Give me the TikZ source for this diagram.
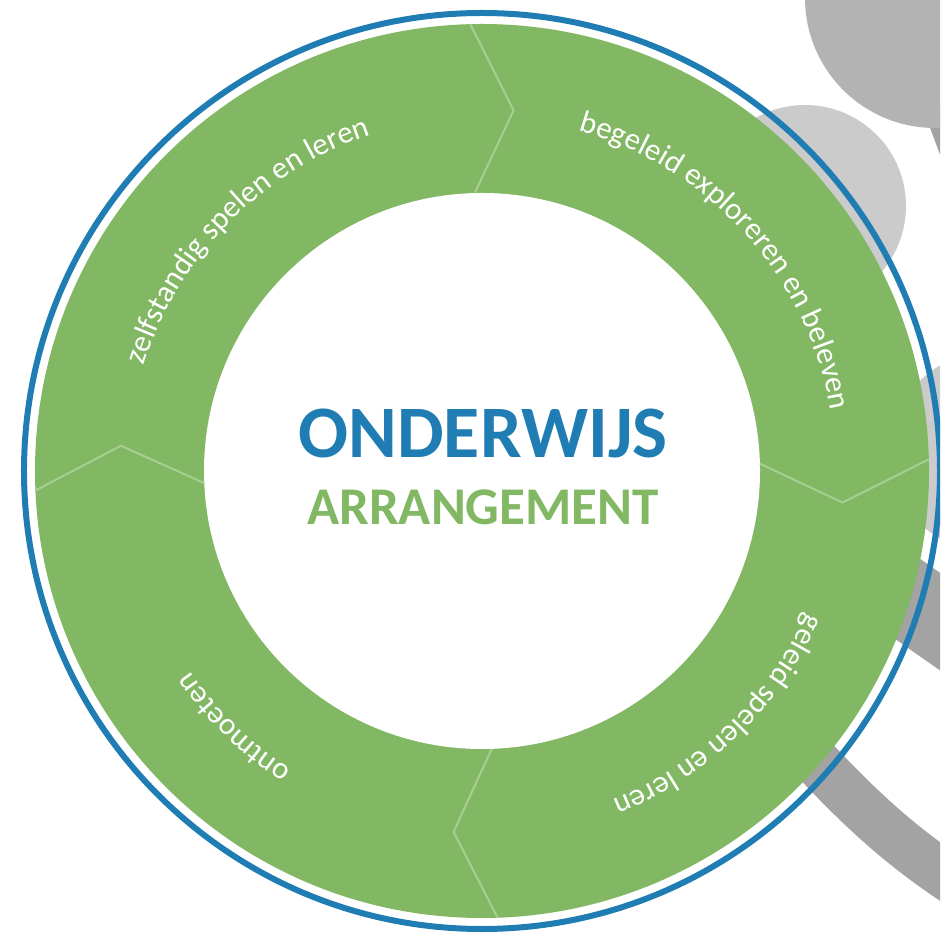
\documentclass[tikz,border=0pt]{standalone}
\usepackage{fontspec}
\setmainfont{Carlito}
\usetikzlibrary{decorations.text}
\definecolor{ringgreen}{RGB}{130,184,99}
\definecolor{rimblue}{RGB}{31,125,180}
\definecolor{bubblegray}{RGB}{179,179,179}
\definecolor{bubblelight}{RGB}{203,203,203}
\definecolor{bandgray}{RGB}{163,163,163}
\definecolor{seamgreen}{RGB}{168,206,146}
\tikzset{
  ringtext/.style={decorate, decoration={text along path, text align=center, text color=white, text={|\fontsize{15.5}{17}\selectfont|#1}}},
  seam/.style={seamgreen, line width=1pt},
}
\begin{document}
\begin{tikzpicture}[x=0.5pt,y=0.5pt]
    \useasboundingbox (-482,-469) rectangle (458,471);
    \clip (-482,-469) rectangle (458,471);
    % grey bubbles behind the wheel
    \draw[bandgray, line width=10pt] (452,361)--(482,281);
    \fill[bubblegray] (453,473) circle (130);
    \fill[bubblelight] (323,265) circle (101);
    \fill[bubblelight] (508,19) circle (100);
    \draw[bandgray, line width=40pt] (300,-40)--(560,-222);
    \draw[bandgray, line width=24pt] (278,-229) to[out=-48,in=150] (520,-440);
    % wheel
    \fill[ringgreen] (0,0) circle (447);
    \fill[white] (0,0) circle (278);
    \draw[rimblue, line width=3pt] (0,0) circle (458);
    \draw[seam] (91.5:447)--(85:362)--(91.5:278);
    \draw[seam] (1.5:447)--(-5:362)--(1.5:278);
    \draw[seam] (-88:447)--(-94.5:362)--(-88:278);
    \draw[seam] (182.5:447)--(176:362)--(182.5:278);
    % labels on the ring
    \path[ringtext={zelfstandig spelen en leren}] (175.5:354) arc[start angle=175.5, end angle=95.5, radius=354];
    \path[ringtext={begeleid exploreren en beleven}] (82:354) arc[start angle=82, end angle=2, radius=354];
    \path[ringtext={geleid spelen en leren}] (-6:354) arc[start angle=-6, end angle=-86, radius=354];
    \path[ringtext={ontmoeten}] (-94:354) arc[start angle=-94, end angle=-174, radius=354];
    % centre
    \node[font=\bfseries\fontsize{37}{40}\selectfont, text=rimblue, anchor=base] (onderwijs) at (1,13) {ONDERWIJS};
    \node[font=\bfseries\fontsize{26.5}{30}\selectfont, text=ringgreen, anchor=base] (arrangement) at (1,-54) {ARRANGEMENT};
\end{tikzpicture}
\end{document}
